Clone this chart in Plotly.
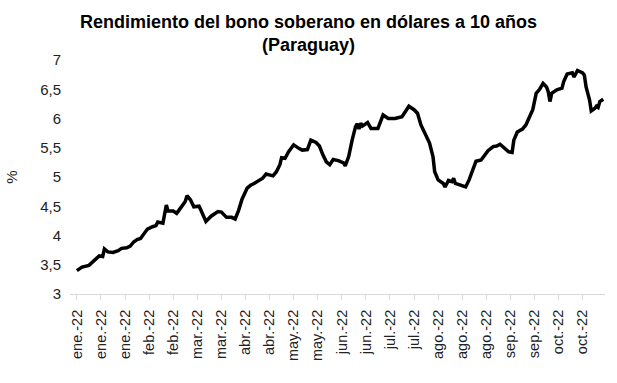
import pandas as pd
import plotly.graph_objects as go

dates = [
    "2022-01-03", "2022-01-06", "2022-01-10", "2022-01-12", "2022-01-14", "2022-01-16",
    "2022-01-18", "2022-01-19", "2022-01-21", "2022-01-24", "2022-01-27", "2022-01-29",
    "2022-02-01", "2022-02-03", "2022-02-05", "2022-02-07", "2022-02-09", "2022-02-11",
    "2022-02-13", "2022-02-16", "2022-02-18", "2022-02-19", "2022-02-22", "2022-02-24",
    "2022-02-25", "2022-02-28", "2022-03-02", "2022-03-04", "2022-03-07", "2022-03-08",
    "2022-03-10", "2022-03-12", "2022-03-15", "2022-03-16", "2022-03-19", "2022-03-22",
    "2022-03-26", "2022-03-28", "2022-03-31", "2022-04-03", "2022-04-05", "2022-04-07",
    "2022-04-09", "2022-04-12", "2022-04-14", "2022-04-16", "2022-04-19", "2022-04-21",
    "2022-04-23", "2022-04-25", "2022-04-27", "2022-04-29", "2022-05-01", "2022-05-02",
    "2022-05-04", "2022-05-06", "2022-05-09", "2022-05-12", "2022-05-14", "2022-05-17",
    "2022-05-19", "2022-05-22", "2022-05-24", "2022-05-26", "2022-05-28", "2022-05-30",
    "2022-06-01", "2022-06-04", "2022-06-07", "2022-06-08", "2022-06-10", "2022-06-12",
    "2022-06-14", "2022-06-15", "2022-06-16", "2022-06-17", "2022-06-18", "2022-06-21",
    "2022-06-23", "2022-06-27", "2022-06-30", "2022-07-03", "2022-07-07", "2022-07-11",
    "2022-07-15", "2022-07-18", "2022-07-20", "2022-07-22", "2022-07-25", "2022-07-27",
    "2022-07-29", "2022-07-30", "2022-08-01", "2022-08-04", "2022-08-05", "2022-08-07",
    "2022-08-09", "2022-08-10", "2022-08-11", "2022-08-15", "2022-08-17", "2022-08-19",
    "2022-08-21", "2022-08-23", "2022-08-26", "2022-08-28", "2022-08-30", "2022-09-02",
    "2022-09-04", "2022-09-06", "2022-09-09", "2022-09-11", "2022-09-13", "2022-09-14",
    "2022-09-16", "2022-09-19", "2022-09-21", "2022-09-22", "2022-09-25", "2022-09-27",
    "2022-09-29", "2022-10-01", "2022-10-03", "2022-10-04", "2022-10-05", "2022-10-06",
    "2022-10-09", "2022-10-12", "2022-10-13", "2022-10-15", "2022-10-18", "2022-10-19",
    "2022-10-21", "2022-10-24", "2022-10-25", "2022-10-26", "2022-10-28", "2022-10-29",
    "2022-10-31", "2022-11-01", "2022-11-02", "2022-11-03", "2022-11-05",
]

yields = [
    3.40, 3.46, 3.49, 3.55, 3.61, 3.65,
    3.64, 3.77, 3.72, 3.71, 3.74, 3.78,
    3.79, 3.82, 3.89, 3.93, 3.95, 4.03,
    4.11, 4.15, 4.17, 4.23, 4.21, 4.52,
    4.42, 4.42, 4.38, 4.46, 4.58, 4.68,
    4.61, 4.49, 4.50, 4.44, 4.24, 4.33,
    4.41, 4.40, 4.31, 4.31, 4.28, 4.43,
    4.62, 4.81, 4.86, 4.89, 4.94, 4.98,
    5.05, 5.03, 5.02, 5.09, 5.21, 5.33,
    5.32, 5.43, 5.55, 5.49, 5.46, 5.47,
    5.63, 5.59, 5.53, 5.38, 5.26, 5.21,
    5.30, 5.28, 5.24, 5.19, 5.35, 5.63,
    5.86, 5.91, 5.82, 5.92, 5.87, 5.93,
    5.83, 5.83, 6.06, 6.00, 6.00, 6.03,
    6.21, 6.15, 6.09, 5.89, 5.72, 5.58,
    5.35, 5.09, 4.95, 4.89, 4.83, 4.94,
    4.92, 4.98, 4.89, 4.86, 4.83, 4.95,
    5.12, 5.27, 5.29, 5.36, 5.45, 5.52,
    5.53, 5.56, 5.49, 5.43, 5.42, 5.63,
    5.77, 5.82, 5.89, 5.95, 6.15, 6.43,
    6.50, 6.60, 6.54, 6.46, 6.29, 6.43,
    6.49, 6.52, 6.63, 6.76, 6.78, 6.71,
    6.82, 6.78, 6.74, 6.54, 6.32, 6.13,
    6.17, 6.21, 6.19, 6.29, 6.33,
]

tick_dates = [
    "2022-01-03", "2022-01-17", "2022-01-31", "2022-02-14", "2022-02-28", "2022-03-14",
    "2022-03-28", "2022-04-11", "2022-04-25", "2022-05-09", "2022-05-23", "2022-06-06",
    "2022-06-20", "2022-07-04", "2022-07-18", "2022-08-01", "2022-08-15", "2022-08-29",
    "2022-09-12", "2022-09-26", "2022-10-10", "2022-10-24",
]
tick_labels = [
    "ene.-22", "ene.-22", "ene.-22", "feb.-22", "feb.-22", "mar.-22",
    "mar.-22", "abr.-22", "abr.-22", "may.-22", "may.-22", "jun.-22",
    "jun.-22", "jul.-22", "jul.-22", "ago.-22", "ago.-22", "ago.-22",
    "sep.-22", "sep.-22", "oct.-22", "oct.-22",
]

y_ticks = [3, 3.5, 4, 4.5, 5, 5.5, 6, 6.5, 7]
y_labels = ["3", "3,5", "4", "4,5", "5", "5,5", "6", "6,5", "7"]

FONT = "Liberation Sans, Arial, sans-serif"

fig = go.Figure(
    go.Scatter(
        x=pd.to_datetime(dates),
        y=yields,
        mode="lines",
        line=dict(color="black", width=3.5),
        showlegend=False,
    )
)

fig.update_layout(
    width=617,
    height=383,
    margin=dict(l=63, r=12, t=60, b=89),
    paper_bgcolor="white",
    plot_bgcolor="white",
    font=dict(family=FONT, color="#222222", size=14),
    title=dict(
        text="<b>Rendimiento del bono soberano en dólares a 10 años<br>(Paraguay)</b>",
        x=0.5,
        xanchor="center",
        xref="container",
        yref="container",
        y=1 - 28 / 383,
        yanchor="middle",
        font=dict(family=FONT, size=18, color="black"),
    ),
)

fig.update_xaxes(
    type="date",
    range=["2021-12-30", "2022-11-06"],
    tickmode="array",
    tickvals=pd.to_datetime(tick_dates),
    ticktext=tick_labels,
    tickangle=-90,
    tickfont=dict(size=14.5),
    showgrid=False,
    showline=True,
    linecolor="#d9d9d9",
    linewidth=1,
    ticks="outside",
    ticklen=5,
    tickcolor="#d9d9d9",
    ticklabelstandoff=4,
    zeroline=False,
)

fig.update_yaxes(
    range=[3, 7],
    tickmode="array",
    tickvals=y_ticks,
    ticktext=y_labels,
    tickfont=dict(size=15),
    showgrid=False,
    showline=False,
    zeroline=False,
    ticks="",
    ticklabelstandoff=8,
    title=dict(text="%", font=dict(size=15), standoff=18),
)

fig.write_html("out.html")
